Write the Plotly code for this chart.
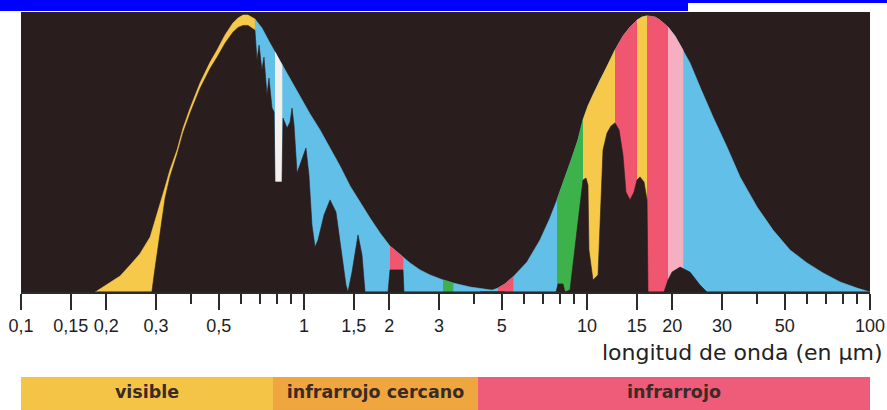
import numpy as np
import plotly.graph_objects as go

# ---------------- DATA ----------------
# Solar radiation curve (wavelength in µm, relative intensity)
solar_wl = [0.183, 0.190, 0.206, 0.224, 0.243, 0.263, 0.286, 0.297, 0.310, 0.323, 0.336, 0.356,
            0.374, 0.396, 0.429, 0.466, 0.493, 0.526, 0.561, 0.585, 0.609, 0.634, 0.671, 0.710,
            0.758, 0.790, 0.836, 0.893, 0.968, 1.050, 1.139, 1.236, 1.340, 1.454, 1.577, 1.711,
            1.856, 2.013, 2.238, 2.369, 2.570, 2.788, 3.099, 3.361, 3.859, 4.543, 5.131]
solar_total = [0, 0.011, 0.032, 0.057, 0.096, 0.136, 0.196, 0.25, 0.311, 0.375, 0.436, 0.507,
               0.586, 0.657, 0.746, 0.821, 0.864, 0.918, 0.961, 0.979, 0.989, 0.989, 0.975, 0.943,
               0.889, 0.857, 0.811, 0.757, 0.696, 0.636, 0.579, 0.514, 0.45, 0.379, 0.321, 0.264,
               0.211, 0.164, 0.125, 0.104, 0.079, 0.061, 0.043, 0.032, 0.018, 0.007, 0]

# Absorbed part of the solar radiation (drawn dark, from the base)
solar_abs_wl = [0.183, 0.290, 0.297, 0.310, 0.323, 0.336, 0.356, 0.374, 0.396, 0.429, 0.466, 0.493,
                0.526, 0.561, 0.585, 0.609, 0.634, 0.671, 0.682, 0.694, 0.710, 0.722, 0.740, 0.752,
                0.771, 0.784, 0.790, 0.836, 0.843, 0.871, 0.893, 0.907, 0.922, 0.945, 0.968, 0.992,
                1.016, 1.041, 1.067, 1.094, 1.121, 1.177, 1.236, 1.297, 1.362, 1.407, 1.430, 1.478,
                1.552, 1.603, 1.643, 1.981, 2.013, 2.238, 2.256, 5.131]
solar_abs = [0, 0, 0.079, 0.22, 0.335, 0.41, 0.49, 0.568, 0.638, 0.726, 0.798, 0.838,
             0.888, 0.928, 0.945, 0.952, 0.952, 0.935, 0.829, 0.882, 0.793, 0.839, 0.704, 0.764,
             0.657, 0.643, 0.393, 0.393, 0.621, 0.586, 0.607, 0.657, 0.596, 0.425, 0.454, 0.489,
             0.514, 0.418, 0.239, 0.161, 0.186, 0.275, 0.329, 0.286, 0.132, 0.025, 0, 0.071,
             0.204, 0.132, 0, 0, 0.079, 0.079, 0, 0]

# Terrestrial radiation curve
earth_wl = [4.187, 4.543, 4.848, 5.131, 5.477, 5.799, 6.139, 6.824, 7.399, 7.836, 8.500, 8.851,
            9.294, 9.680, 10.08, 10.50, 11.12, 11.77, 12.56, 13.40, 14.19, 15.02, 15.65, 16.30,
            17.39, 18.11, 19.33, 20.46, 21.84, 23.12, 25.08, 27.88, 31.23, 34.73, 39.88, 45.43,
            52.17, 59.90, 68.24, 78.36, 89.97, 100]
earth_total = [0, 0.004, 0.014, 0.029, 0.054, 0.079, 0.107, 0.186, 0.264, 0.329, 0.425, 0.479,
               0.543, 0.614, 0.664, 0.704, 0.757, 0.804, 0.864, 0.914, 0.946, 0.971, 0.982, 0.986,
               0.982, 0.971, 0.946, 0.914, 0.864, 0.818, 0.732, 0.625, 0.518, 0.411, 0.304, 0.221,
               0.15, 0.104, 0.068, 0.036, 0.014, 0]

earth_abs_wl = [4.187, 7.772, 7.900, 8.228, 8.363, 8.710, 9.294, 9.680, 9.919, 10.08, 10.16, 10.50,
                10.94, 11.12, 11.39, 11.77, 12.16, 12.56, 12.98, 13.40, 13.73, 14.19, 14.66, 15.02,
                15.39, 15.90, 16.30, 16.43, 18.71, 19.33, 19.97, 21.32, 23.12, 25.08, 26.55, 100]
earth_abs = [0, 0, 0.029, 0.029, 0, 0.007, 0.25, 0.4, 0.407, 0.382, 0.15, 0.043,
             0.061, 0.221, 0.507, 0.568, 0.593, 0.604, 0.579, 0.489, 0.357, 0.329, 0.357, 0.4,
             0.411, 0.393, 0.329, 0, 0, 0.043, 0.071, 0.089, 0.071, 0.025, 0, 0]

# Coloured spectral bands of each curve
solar_band_start = [0.183, 0.671, 0.790, 2.013, 3.099]
solar_band_end = [0.671, 5.131, 0.836, 2.238, 3.361]
solar_band_kind = ["amarillo", "azul", "blanco", "rojo", "verde"]

earth_band_start = [4.187, 4.848, 7.836, 9.680, 12.56, 15.02, 16.30, 19.33]
earth_band_end = [100, 5.477, 9.680, 12.56, 15.02, 16.30, 19.33, 21.84]
earth_band_kind = ["azul", "rojo", "verde", "amarillo", "rojo", "amarillo", "rojo", "rosa"]

# Spectral regions (bottom strip)
region_labels = ["visible", "infrarrojo cercano", "infrarrojo"]
region_start = [0.1, 0.777, 4.12]
region_end = [0.777, 4.12, 100]
region_kind = ["visible", "cercano", "infrarrojo"]

# Axis ticks
tick_vals = [0.1, 0.15, 0.2, 0.3, 0.5, 1, 1.5, 2, 3, 5, 10, 15, 20, 30, 50, 100]
tick_text = ["0,1", "0,15", "0,2", "0,3", "0,5", "1", "1,5", "2", "3", "5",
             "10", "15", "20", "30", "50", "100"]
minor_vals = [0.4, 0.6, 0.7, 0.8, 0.9, 4, 6, 7, 8, 9, 40, 60, 70, 80, 90]
axis_title = "longitud de onda (en µm)"

# ---------------- STYLE ----------------
COLORS = {
    "amarillo": "#F6C94A",
    "azul": "#62C0E8",
    "blanco": "#F4F0EE",
    "rojo": "#F0566F",
    "verde": "#3DB24A",
    "rosa": "#F4AFC0",
}
REGION_COLORS = {"visible": "#F4C446", "cercano": "#F0A63E", "infrarrojo": "#EE5C7A"}
DARK = "#2a1d1e"

fig = go.Figure()


def band_poly(wl, val, s, e):
    wl = np.asarray(wl, dtype=float)
    val = np.asarray(val, dtype=float)
    m = (wl >= s * (1 - 1e-9)) & (wl <= e * (1 + 1e-9))
    xs, ys = wl[m], val[m]
    return (np.concatenate([xs, xs[::-1]]).tolist(),
            np.concatenate([ys, np.zeros_like(ys)]).tolist())


def add_poly(x, y, color, yaxis="y"):
    fig.add_trace(go.Scatter(x=x, y=y, mode="lines", fill="toself", fillcolor=color,
                             line=dict(color=color, width=0.6), hoverinfo="skip",
                             showlegend=False, yaxis=yaxis))


for s, e, k in zip(solar_band_start, solar_band_end, solar_band_kind):
    x, y = band_poly(solar_wl, solar_total, s, e)
    add_poly(x, y, COLORS[k])
for s, e, k in zip(earth_band_start, earth_band_end, earth_band_kind):
    x, y = band_poly(earth_wl, earth_total, s, e)
    add_poly(x, y, COLORS[k])

x, y = band_poly(solar_abs_wl, solar_abs, solar_abs_wl[0], solar_abs_wl[-1])
add_poly(x, y, DARK)
x, y = band_poly(earth_abs_wl, earth_abs, earth_abs_wl[0], earth_abs_wl[-1])
add_poly(x, y, DARK)

# bottom region strip
for s, e, k in zip(region_start, region_end, region_kind):
    add_poly([s, e, e, s], [0, 0, 1, 1], REGION_COLORS[k], yaxis="y2")
fig.add_trace(go.Scatter(
    x=[float(np.sqrt(s * e)) for s, e in zip(region_start, region_end)],
    y=[0.5] * len(region_labels), text=region_labels, mode="text",
    textfont=dict(family="DejaVu Sans", size=17.5, color="#3b2b26", weight="bold"),
    hoverinfo="skip", showlegend=False, yaxis="y2"))

W, H = 887, 410
ML, MR, MT, MB = 21, 17, 12, 0
pw, ph = W - ML - MR, H - MT - MB


def px(xp):
    return (xp - ML) / pw


def py(yp):
    return (H - MB - yp) / ph


fig.update_layout(
    width=W, height=H,
    margin=dict(l=ML, r=MR, t=MT, b=MB, autoexpand=False),
    paper_bgcolor="white", plot_bgcolor="white",
    showlegend=False,
    hovermode=False,
    xaxis=dict(type="log", range=[-1, 2], anchor="y",
               tickmode="array", tickvals=tick_vals, ticktext=tick_text,
               ticks="outside", ticklen=16, tickwidth=2, tickcolor="#2b2b2b",
               showline=True, linecolor="#2b2b2b", linewidth=2,
               showgrid=False, zeroline=False,
               tickfont=dict(family="Liberation Sans, Arial, sans-serif", size=18, color="#1e1e1e"),
               minor=dict(tickmode="array", tickvals=minor_vals, ticks="outside",
                          ticklen=10, tickwidth=2, tickcolor="#2b2b2b", showgrid=False)),
    yaxis=dict(domain=[py(292), 1], range=[0, 1], visible=False, fixedrange=True),
    yaxis2=dict(domain=[0, py(377)], range=[0, 1], visible=False, anchor="x"),
    shapes=[
        dict(type="rect", xref="x domain", yref="y domain", x0=0, x1=1, y0=0, y1=1,
             fillcolor=DARK, line=dict(width=0), layer="below"),
        dict(type="rect", xref="paper", yref="paper", x0=px(0), x1=px(688), y0=py(11), y1=py(0),
             fillcolor="#0000FF", line=dict(width=0)),
        dict(type="rect", xref="paper", yref="paper", x0=px(688), x1=px(887), y0=py(3), y1=py(0),
             fillcolor="#0000FF", line=dict(width=0)),
    ],
    annotations=[
        dict(text=axis_title, xref="paper", yref="paper", x=px(885), y=py(352),
             xanchor="right", yanchor="middle", showarrow=False,
             font=dict(family="DejaVu Sans", size=22, color="#222222")),
    ],
)

fig.write_html("out.html", config={"displayModeBar": False, "staticPlot": True},
               post_script="document.body.style.margin='0';document.body.style.overflow='hidden';")
